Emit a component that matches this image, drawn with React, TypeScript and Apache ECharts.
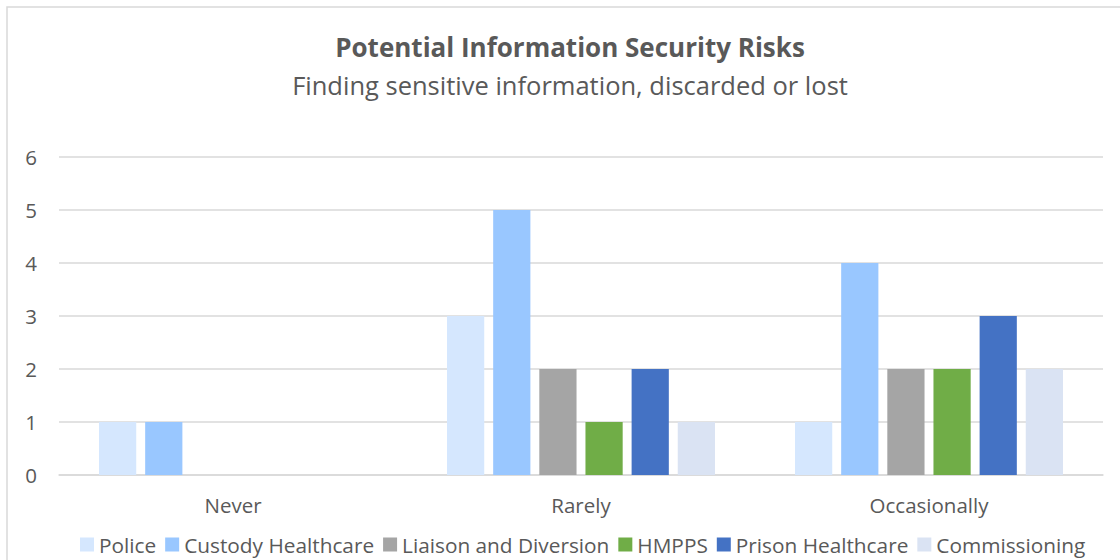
import React, { useEffect, useRef } from "react";
import * as echarts from "echarts";

const categories = ["Never", "Rarely", "Occasionally"];
const seriesNames = ["Police", "Custody Healthcare", "Liaison and Diversion", "HMPPS", "Prison Healthcare", "Commissioning"];
const police = [1, 3, 1];
const custody = [1, 5, 4];
const liaison = [0, 2, 2];
const hmpps = [0, 1, 2];
const prison = [0, 2, 3];
const commissioning = [0, 1, 2];
const colors = ["#D5E7FE", "#99C7FF", "#A5A5A5", "#70AD47", "#4472C4", "#DAE3F3"];
const yTicks = [0, 1, 2, 3, 4, 5, 6];

const FONT = "'Open Sans', sans-serif";
const TXT = "#595959";

export default function App() {
  const ref = useRef<HTMLDivElement>(null);
  useEffect(() => {
    const chart = echarts.init(ref.current!, null, { renderer: "svg" });
    const values = [police, custody, liaison, hmpps, prison, commissioning];
    chart.setOption({
      animation: false,
      backgroundColor: "#ffffff",
      title: {
        text: "Potential Information Security Risks",
        subtext: "Finding sensitive information, discarded or lost",
        left: 565,
        textAlign: "center",
        top: 29,
        itemGap: 12,
        textStyle: { fontFamily: FONT, fontSize: 26, fontWeight: "bold", color: TXT },
        subtextStyle: { fontFamily: FONT, fontSize: 25.5, color: TXT },
      },
      graphic: [
        {
          type: "rect",
          shape: { x: 7, y: 7, width: 1130, height: 570 },
          style: { fill: "none", stroke: "#d9d9d9", lineWidth: 1.5 },
          silent: true,
        },
      ],
      grid: { left: 59, right: 17, top: 157, bottom: 85, containLabel: false },
      legend: {
        bottom: 0,
        left: 75,
        itemWidth: 14,
        itemHeight: 14,
        itemGap: 9,
        icon: "rect",
        textStyle: { fontFamily: FONT, fontSize: 20.8, color: TXT },
        data: seriesNames,
      },
      xAxis: {
        type: "category",
        data: categories,
        axisLine: { lineStyle: { color: "#d9d9d9", width: 1.5 } },
        axisTick: { show: false },
        axisLabel: { fontFamily: FONT, fontSize: 20.5, color: TXT, margin: 19 },
      },
      yAxis: {
        type: "value",
        min: yTicks[0],
        max: yTicks[yTicks.length - 1],
        interval: 1,
        axisLine: { show: false },
        axisTick: { show: false },
        axisLabel: { fontFamily: FONT, fontSize: 20.5, color: TXT, margin: 22 },
        splitLine: { lineStyle: { color: "#d9d9d9", width: 1.5 } },
      },
      series: seriesNames.map((name, i) => ({
        name,
        type: "bar",
        data: values[i],
        barGap: "24%",
        barCategoryGap: "23%",
        itemStyle: { color: colors[i] },
      })),
    });
    return () => chart.dispose();
  }, []);
  return (
    <div
      ref={ref}
      style={{ position: "absolute", left: 0, top: 0, width: 1120, height: 560 }}
    />
  );
}
